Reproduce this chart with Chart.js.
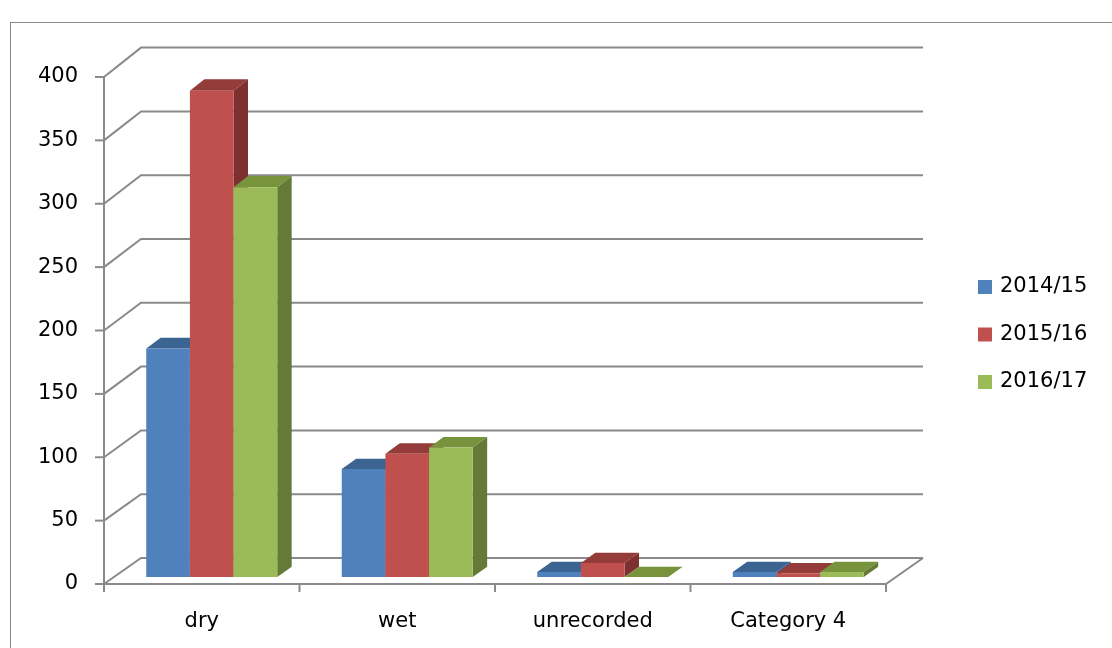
<!DOCTYPE html>
<html>
<head>
<meta charset="utf-8">
<title>Incidents by surface condition</title>
<script src="https://cdn.jsdelivr.net/npm/chart.js@4.4.1/dist/chart.umd.min.js"></script>
<style>
  html, body { margin: 0; padding: 0; background: #ffffff; }
  #wrap { width: 1112px; height: 648px; position: relative; }
  canvas { display: block; }
</style>
</head>
<body>
<div id="wrap"><canvas id="chart" width="1112" height="648"></canvas></div>
<script>
// Categories and season series
const categories = ['dry', 'wet', 'unrecorded', 'Category 4'];
const seasons = ['2014/15', '2015/16', '2016/17'];
const values201415 = [180, 85, 4, 4];
const values201516 = [383, 97, 11, 3];
const values201617 = [307, 102, 0, 4];
const yTickStep = 50;
const yMax = 400;

// Office palette: front face, top face, right side face
const frontColors = ['#4F81BD', '#C0504D', '#9BBB59'];
const topColors   = ['#3C6492', '#933C3A', '#77933C'];
const sideColors  = ['#385D8A', '#7D302F', '#657A37'];

const LINE = '#8a8a8a';
// Oblique depth of the plot box (back wall offset) and bar slab position in depth
const DEPTH = { dx: 37, dyBottom: 26, dyTop: 29.4, front: 0.27, back: 0.66 };

function project(yScale, x, v, t) {
  const y = yScale.getPixelForValue(v);
  const f = (v - yScale.min) / (yScale.max - yScale.min);
  const dy = DEPTH.dyBottom + (DEPTH.dyTop - DEPTH.dyBottom) * f;
  return [x + t * DEPTH.dx, y - t * dy];
}

function poly(ctx, pts, fill) {
  ctx.beginPath();
  ctx.moveTo(pts[0][0], pts[0][1]);
  for (let k = 1; k < pts.length; k++) ctx.lineTo(pts[k][0], pts[k][1]);
  ctx.closePath();
  ctx.fillStyle = fill;
  ctx.fill();
}

const box3d = {
  id: 'box3d',
  beforeDraw(chart) {
    const ctx = chart.ctx;
    // outer frame
    ctx.save();
    ctx.strokeStyle = '#8a8a8a';
    ctx.lineWidth = 1;
    ctx.strokeRect(10.5, 22.5, 1200, 700);
    ctx.restore();
  },
  beforeDatasetsDraw(chart) {
    const ctx = chart.ctx;
    const xs = chart.scales.x;
    const ys = chart.scales.y;
    const left = xs.left, right = xs.right;
    ctx.save();
    ctx.strokeStyle = LINE;
    ctx.lineWidth = 2;
    ctx.lineCap = 'butt';

    // back wall gridlines + side wall diagonals
    for (let v = 0; v <= yMax; v += yTickStep) {
      const f = project(ys, left, v, 0);
      const b = project(ys, left, v, 1);
      const br = project(ys, right, v, 1);
      ctx.beginPath();
      ctx.moveTo(f[0], f[1]);
      ctx.lineTo(b[0], b[1]);
      ctx.lineTo(br[0], br[1]);
      ctx.stroke();
      // tick mark on the value axis
      ctx.beginPath();
      ctx.moveTo(left - 9, f[1]);
      ctx.lineTo(left, f[1]);
      ctx.stroke();
    }
    // value axis line
    const a0 = project(ys, left, 0, 0);
    const a1 = project(ys, left, yMax, 0);
    ctx.beginPath();
    ctx.moveTo(a0[0], a0[1]);
    ctx.lineTo(a1[0], a1[1]);
    ctx.stroke();
    // floor front edge and right edge
    const fr = project(ys, right, 0, 0);
    const brr = project(ys, right, 0, 1);
    ctx.beginPath();
    ctx.moveTo(a0[0], a0[1]);
    ctx.lineTo(fr[0], fr[1]);
    ctx.lineTo(brr[0], brr[1]);
    ctx.stroke();
    // category tick marks
    const band = (right - left) / categories.length;
    for (let k = 0; k <= categories.length; k++) {
      const x = left + k * band;
      ctx.beginPath();
      ctx.moveTo(x, a0[1]);
      ctx.lineTo(x, a0[1] + 8);
      ctx.stroke();
    }

    // bars, painted left to right
    const t0 = DEPTH.front, t1 = DEPTH.back;
    for (let j = 0; j < categories.length; j++) {
      chart.data.datasets.forEach((ds, i) => {
        const el = chart.getDatasetMeta(i).data[j];
        const v = ds.data[j];
        const l = el.x - el.width / 2;
        const r = el.x + el.width / 2;
        const fl0 = project(ys, l, 0, t0), fr0 = project(ys, r, 0, t0);
        const flv = project(ys, l, v, t0), frv = project(ys, r, v, t0);
        const blv = project(ys, l, v, t1), brv = project(ys, r, v, t1);
        const br0 = project(ys, r, 0, t1);
        poly(ctx, [flv, frv, brv, blv], topColors[i]);
        poly(ctx, [fr0, br0, brv, frv], sideColors[i]);
        if (v > 0) poly(ctx, [fl0, fr0, frv, flv], frontColors[i]);
      });
    }
    ctx.restore();
    return false;
  },
  afterDraw(chart) {
    const ctx = chart.ctx;
    ctx.save();
    const rows = [287, 334.5, 382];
    ctx.font = '21px "DejaVu Sans"';
    ctx.textBaseline = 'middle';
    ctx.textAlign = 'left';
    chart.data.datasets.forEach((ds, i) => {
      ctx.fillStyle = frontColors[i];
      ctx.fillRect(978, rows[i] - 7, 14, 14);
      ctx.fillStyle = '#000000';
      ctx.fillText(ds.label, 1000, rows[i]);
    });
    ctx.restore();
  }
};

Chart.defaults.font.family = '"DejaVu Sans", sans-serif';
Chart.defaults.font.size = 21;
Chart.defaults.color = '#000000';

new Chart(document.getElementById('chart'), {
  type: 'bar',
  data: {
    labels: categories,
    datasets: [
      { label: seasons[0], data: values201415, backgroundColor: frontColors[0] },
      { label: seasons[1], data: values201516, backgroundColor: frontColors[1] },
      { label: seasons[2], data: values201617, backgroundColor: frontColors[2] }
    ]
  },
  options: {
    responsive: false,
    animation: false,
    devicePixelRatio: 1,
    layout: { padding: { left: 10, top: 77, right: 226, bottom: 0 } },
    plugins: { legend: { display: false }, tooltip: { enabled: false } },
    datasets: { bar: { categoryPercentage: 0.67, barPercentage: 1.0 } },
    scales: {
      x: {
        offset: true,
        grid: { display: false },
        border: { display: false },
        ticks: { padding: 17, maxRotation: 0 },
        afterFit(s) { s.height = 64; }
      },
      y: {
        min: 0,
        max: yMax,
        grid: { display: false },
        border: { display: false },
        ticks: { stepSize: yTickStep, padding: 18 },
        afterFit(s) { s.width = 94; }
      }
    }
  },
  plugins: [box3d]
});
</script>
</body>
</html>
